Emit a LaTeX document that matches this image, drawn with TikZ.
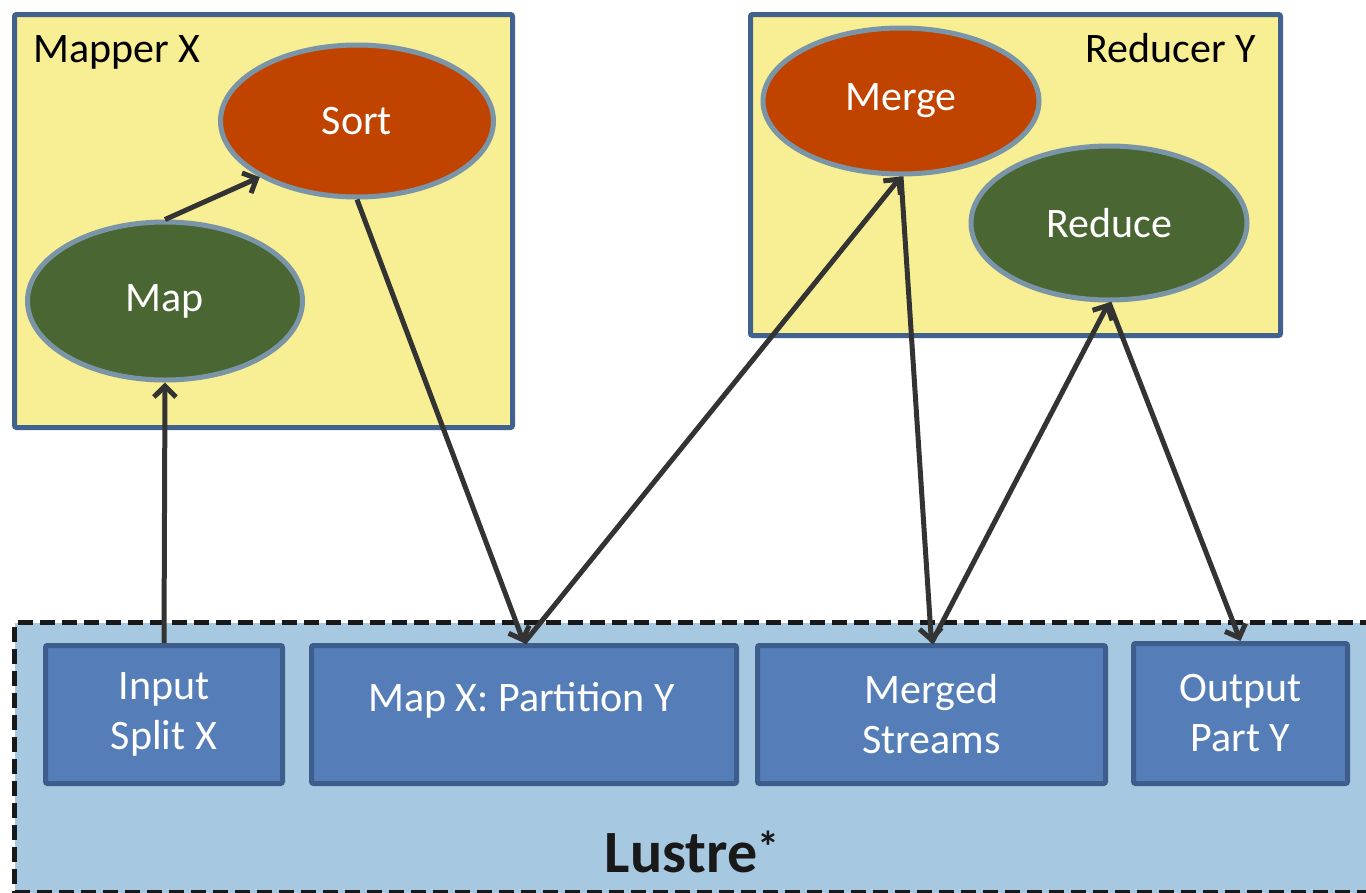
\documentclass[tikz,border=0pt]{standalone}
\usepackage{fontspec}
\setmainfont{Carlito}
\usetikzlibrary{arrows.meta,shapes.geometric}
\definecolor{yel}{HTML}{F8EE93}
\definecolor{bxborder}{HTML}{41618F}
\definecolor{redell}{HTML}{C04400}
\definecolor{greenell}{HTML}{4A6632}
\definecolor{ellborder}{HTML}{7A95A8}
\definecolor{lustrefill}{HTML}{A6C8E0}
\definecolor{stfill}{HTML}{557EB8}
\definecolor{stborder}{HTML}{3D5D8C}
\definecolor{arr}{HTML}{333333}
\tikzset{
  group/.style={draw=bxborder, line width=5pt, fill=yel, rounded corners=2pt},
  ell/.style={ellipse, draw=ellborder, line width=5pt, inner sep=0pt, text=white, font=\fontsize{42}{48}\selectfont},
  redE/.style={ell, fill=redell},
  greenE/.style={ell, fill=greenell},
  store/.style={draw=stborder, line width=5pt, fill=stfill, rounded corners=2pt, text=white, inner sep=0pt, align=center, font=\fontsize{42}{50}\selectfont},
  conn/.style={draw=arr, line width=5pt, -{Straight Barb[length=11pt,width=22pt]}},
  title/.style={font=\fontsize{42}{48}\selectfont, text=black, inner sep=0pt}
}
\begin{document}
\begin{tikzpicture}[x=1pt,y=-1pt]
\useasboundingbox (0,0) rectangle (1366,892);
\clip (0,0) rectangle (1366,892);
% Lustre region
\node[draw=black!90, dashed, dash pattern=on 15pt off 7pt, line width=5pt, fill=lustrefill, minimum width=1370pt, minimum height=270pt, anchor=north west, inner sep=0pt] (lustre) at (12,620) {};
\node[font=\bfseries\fontsize{60}{66}\selectfont, text=black!90, anchor=base, inner sep=0pt] (lustrelbl) at (692,872) {Lustre\raisebox{10pt}{\fontsize{44}{44}\selectfont *}};
% storage boxes
\node[store, minimum width=237pt, minimum height=138pt, anchor=north west] (input) at (43,643) {Input\\Split X};
\node[store, minimum width=425pt, minimum height=138pt, anchor=north west] (mapx) at (309,643) {};
\node[font=\fontsize{42}{48}\selectfont, text=white, inner sep=0pt] (mapxlbl) at (521.5,700) {Map X: Partition Y};
\node[store, minimum width=348pt, minimum height=138pt, anchor=north west] (merged) at (755,643) {Merged\\Streams};
\node[store, minimum width=214pt, minimum height=140pt, anchor=north west] (output) at (1131,641) {Output\\Part Y};
% group boxes
\node[group, minimum width=498pt, minimum height=413pt, anchor=north west, inner sep=0pt] (mapper) at (12,12) {};
\node[title, anchor=base west] (mapperlbl) at (33,62) {Mapper X};
\node[group, minimum width=530pt, minimum height=321pt, anchor=north west, inner sep=0pt] (reducer) at (748,12) {};
\node[title, anchor=base east] (reducerlbl) at (1256,62) {Reducer Y};
% ellipses
\node[redE, minimum width=273pt, minimum height=152pt] (sort) at (357,121) {Sort};
\node[greenE, minimum width=275pt, minimum height=158pt] (map) at (165,301) {Map};
\node[redE, minimum width=276pt, minimum height=146pt] (merge) at (901,101) {Merge};
\node[greenE, minimum width=276pt, minimum height=154pt] (reduce) at (1109,223) {Reduce};
% connectors
\draw[conn] (input.north) -- (map.south);
\draw[conn] (map.north) -- (sort.210);
\draw[conn] (sort.south) -- (mapx.north);
\draw[conn] (mapx.north) -- (merge.south);
\draw[conn] (merge.south) -- (merged.north);
\draw[conn] (merged.north) -- (reduce.south);
\draw[conn] (reduce.south) -- (output.north);
\end{tikzpicture}
\end{document}
